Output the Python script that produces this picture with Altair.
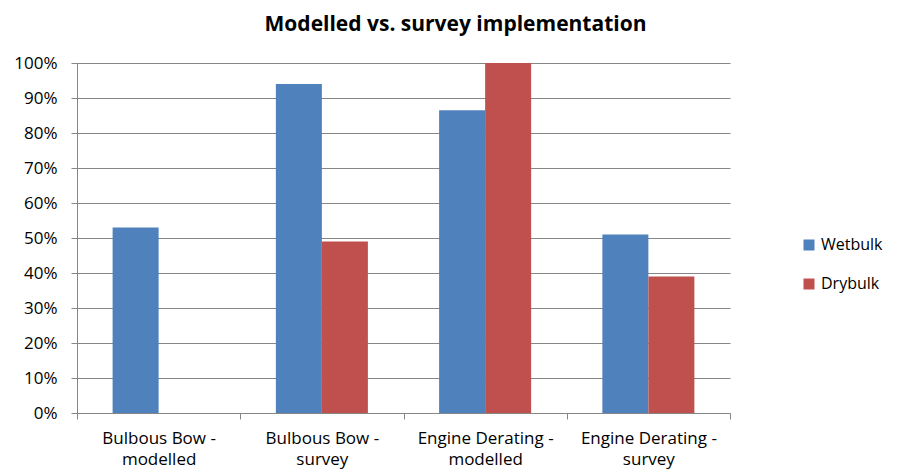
import altair as alt
import pandas as pd

categories = ["Bulbous Bow - modelled", "Bulbous Bow - survey",
              "Engine Derating - modelled", "Engine Derating - survey"]
series = ["Wetbulk", "Drybulk"]
wetbulk = [0.53, 0.94, 0.865, 0.51]
drybulk = [0.0, 0.49, 1.0, 0.39]
colors = ["#4F81BD", "#C0504D"]
y_ticks = [i / 10 for i in range(11)]

rows = []
for c, w, d in zip(categories, wetbulk, drybulk):
    rows.append({"category": c, "series": "Wetbulk", "value": w})
    rows.append({"category": c, "series": "Drybulk", "value": d})
df = pd.DataFrame(rows)

FONT = "Open Sans"
GRID = "#868686"

label_expr = ("[substring(datum.label, 0, indexof(datum.label, '- ') + 1), "
              "substring(datum.label, indexof(datum.label, '- ') + 2)]")

chart = alt.Chart(df).mark_bar().encode(
    x=alt.X("category:N", sort=categories, title=None,
            scale=alt.Scale(paddingInner=0, paddingOuter=0),
            axis=alt.Axis(labelAngle=0, labelExpr=label_expr, tickBand="extent",
                          tickSize=6, tickColor=GRID, domainColor=GRID,
                          labelPadding=11, labelLineHeight=21, labelFont=FONT,
                          labelFontSize=17, labelColor="black", grid=False,
                          labelBaseline="top")),
    xOffset=alt.XOffset("series:N", sort=series,
                        scale=alt.Scale(paddingInner=0, paddingOuter=0.774)),
    y=alt.Y("value:Q", title=None,
            scale=alt.Scale(domain=[0, 1], nice=False),
            axis=alt.Axis(format="%", values=y_ticks, tickSize=6, tickColor=GRID,
                          domainColor=GRID, gridColor=GRID, gridWidth=1,
                          labelPadding=14, labelFont=FONT, labelFontSize=17,
                          labelColor="black")),
    color=alt.Color("series:N", sort=series,
                    scale=alt.Scale(domain=series, range=colors),
                    legend=alt.Legend(title=None, orient="none", legendX=724,
                                      legendY=174, padding=0, symbolType="square",
                                      symbolSize=121, symbolStrokeWidth=0,
                                      labelFont=FONT, labelFontSize=16,
                                      labelColor="black", rowPadding=23,
                                      labelOffset=4)),
).properties(
    width=653,
    height=350,
    autosize=alt.AutoSizeParams(type="none"),
    padding={"left": 69, "top": 55, "right": 159, "bottom": 57},
    title=alt.TitleParams("Modelled vs. survey implementation", font=FONT,
                          fontSize=21, fontWeight="bold", color="black",
                          anchor="middle", dx=52, offset=19),
).configure_view(stroke=None).configure_axis(gridOpacity=1)

chart.save("out.html", embed_options={"renderer": "svg", "actions": False})
